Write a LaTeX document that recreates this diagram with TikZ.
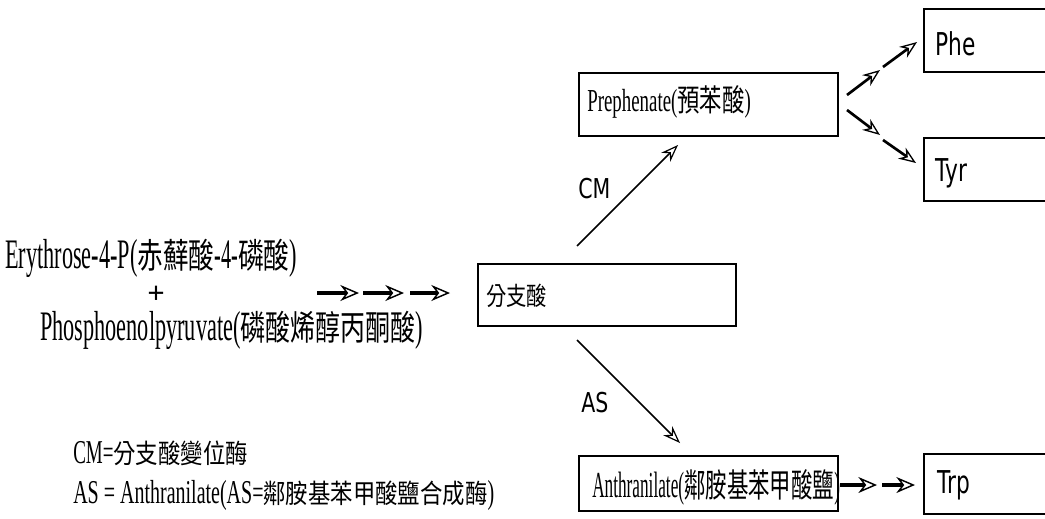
\documentclass[tikz,border=0pt]{standalone}
\usepackage{fontspec}
\usepackage{graphicx}
\usetikzlibrary{arrows.meta}
\newfontfamily\ser{Liberation Serif}
\newfontfamily\cjk{Noto Sans CJK TC}
\newfontfamily\dvs{DejaVu Sans}
\newcommand\Lt[3]{\scalebox{#1}[1]{\ser\fontsize{#2pt}{#2pt}\selectfont #3}}
\newcommand\Zh[3]{\scalebox{#1}[1]{\cjk\fontsize{#2pt}{#2pt}\selectfont #3}}
\newcommand\Sf[3]{\scalebox{#1}[1]{\dvs\fontsize{#2pt}{#2pt}\selectfont #3}}
\tikzset{
  box/.style={draw, line width=1.6pt, rectangle, inner sep=0pt, anchor=north west},
  lab/.style={inner sep=0pt, anchor=base west},
  thinarr/.style={line width=1.1pt, -{Stealth[open, length=13pt, width=9.5pt, line width=0.9pt, fill=white]}},
  midarr/.style={line width=2pt, -{Stealth[open, length=13pt, width=10pt, line width=1pt, fill=white]}},
  thickarr/.style={line width=3pt, -{Stealth[open, length=14pt, width=12pt, line width=1.1pt, fill=white]}},
}
\begin{document}
\begin{tikzpicture}[x=0.75pt,y=-0.75pt]
\useasboundingbox (0,0) rectangle (1045,518);
% boxes
\node[box, minimum width=193.5pt, minimum height=46.5pt] (chor) at (477,263) {};
\node[box, minimum width=194.25pt, minimum height=47.25pt] (prep) at (578,72) {};
\node[box, minimum width=194.25pt, minimum height=41.25pt] (anth) at (578,455) {};
\node[box, minimum width=99pt, minimum height=47.25pt] (phe) at (923,8) {};
\node[box, minimum width=99pt, minimum height=47.25pt] (tyr) at (923,137) {};
\node[box, minimum width=99pt, minimum height=45pt] (trp) at (923,453) {};
% texts
\node[lab] (t1) at (5,268) {\Lt{0.53}{31.5}{Erythrose-4-P(}\Zh{0.74}{26}{赤蘚酸}\Lt{0.48}{31.5}{-4-}\Zh{0.74}{26}{磷酸}\Lt{0.53}{31.5}{)}};
\node[inner sep=0pt, anchor=base] (plus) at (156,303) {\Lt{1}{23}{\bfseries +}};
\node[lab] (t2) at (40,340) {\Lt{0.53}{31.5}{Phosphoenolpyruvate(}\Zh{0.72}{26}{磷酸烯醇丙酮酸}\Lt{0.53}{31.5}{)}};
\node[lab] (chortxt) at (486,305) {\Zh{0.8}{19}{分支酸}};
\node[lab] (preptxt) at (587,111) {\Lt{0.59}{24}{Prephenate(}\Zh{0.73}{23}{預苯酸}\Lt{0.59}{24}{)}};
\node[lab] (anthtxt) at (592,497) {\Lt{0.47}{27.5}{Anthranilate(}\Zh{0.65}{24.75}{鄰胺基苯甲酸鹽}\Lt{0.47}{27.5}{)}};
\node[lab] (cmnote) at (73,463) {\Lt{0.57}{25}{CM=}\Zh{0.84}{20}{分支酸變位酶}};
\node[lab] (asnote) at (73,503) {\Lt{0.6}{25}{AS = Anthranilate(AS=}\Zh{0.84}{20}{鄰胺基苯甲酸鹽合成酶}\Lt{0.6}{25}{)}};
\node[lab] (cmlab) at (578,198) {\Sf{0.75}{20.5}{CM}};
\node[lab] (aslab) at (581,412) {\Sf{0.75}{20.5}{AS}};
\node[lab] (phetxt) at (935,55) {\Sf{0.69}{23.6}{Phe}};
\node[lab] (tyrtxt) at (935,181) {\Sf{0.69}{23.6}{Tyr}};
\node[lab] (trptxt) at (937,493) {\Sf{0.69}{23.6}{Trp}};
% connector end points
\coordinate (a0) at (317,293); \coordinate (a1) at (359,293);
\coordinate (a2) at (363,293); \coordinate (a3) at (404,293);
\coordinate (a4) at (410,293); \coordinate (a5) at (450,293);
\coordinate (cm0) at (577,246); \coordinate (cm1) at (678,145);
\coordinate (as0) at (577,340); \coordinate (as1) at (680,443);
\coordinate (p0) at (847,95); \coordinate (p1) at (880,70);
\coordinate (p2) at (883,67); \coordinate (p3) at (917,42);
\coordinate (y0) at (847,110); \coordinate (y1) at (880,135);
\coordinate (y2) at (883,140); \coordinate (y3) at (916,163);
\coordinate (r0) at (840,485); \coordinate (r1) at (877,485);
\coordinate (r2) at (882,485); \coordinate (r3) at (915,485);
% connectors
\draw[thickarr] (a0) -- (a1);
\draw[thickarr] (a2) -- (a3);
\draw[thickarr] (a4) -- (a5);
\draw[thinarr] (cm0) -- (cm1);
\draw[thinarr] (as0) -- (as1);
\draw[midarr] (p0) -- (p1);
\draw[midarr] (p2) -- (p3);
\draw[midarr] (y0) -- (y1);
\draw[midarr] (y2) -- (y3);
\draw[thickarr] (r0) -- (r1);
\draw[thickarr] (r2) -- (r3);
\end{tikzpicture}
\end{document}
